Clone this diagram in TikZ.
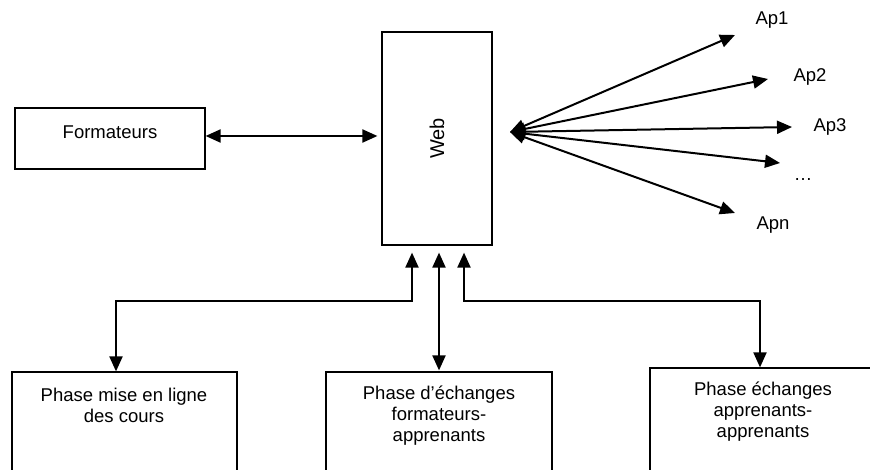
\documentclass[tikz,border=0pt]{standalone}
\usepackage{fontspec}
\setmainfont{Liberation Sans}
\usetikzlibrary{arrows.meta}
\begin{document}
\begin{tikzpicture}[x=1pt,y=-1pt,
  font=\fontsize{18.5}{21}\selectfont,
  box/.style={draw, line width=1.2pt, inner sep=0pt},
  conn/.style={line width=2pt, {Triangle[length=15pt,width=13pt]}-{Triangle[length=15pt,width=13pt]}},
  lbl/.style={inner sep=0pt}]
\useasboundingbox (0,0) rectangle (870,470);
\clip (0,0) rectangle (870,470);
\fill[white] (0,0) rectangle (870,470);
% boxes
\node[box, minimum width=190pt, minimum height=61pt] (form) at (110,138.5) {};
\node[lbl] (formtxt) at ([yshift=6.5pt]form.center) {Formateurs};
\node[box, minimum width=110pt, minimum height=213pt] (web) at (437,138.5) {};
\node[lbl, rotate=90, font=\fontsize{20}{24}\selectfont] (webtxt) at (web.center) {Web};
\node[box, minimum width=225pt, minimum height=110pt] (p1) at (124.5,427) {};
\node[lbl, align=center] (p1txt) at (124,405.5) {Phase mise en ligne\\des cours};
\node[box, minimum width=226pt, minimum height=110pt] (p2) at (439,427) {};
\node[lbl, align=center] (p2txt) at (439,416) {Phase d’échanges\\formateurs-\\apprenants};
\node[box, minimum width=226pt, minimum height=114pt] (p3) at (763,425) {};
\node[lbl, align=center] (p3txt) at (763,412) {Phase échanges\\apprenants-\\apprenants};
% hub and learners
\coordinate (hub) at (510,132);
\coordinate (t1) at (735,35);
\coordinate (t2) at (768,79);
\coordinate (t3) at (792,127);
\coordinate (t4) at (780,163);
\coordinate (t5) at (735,213);
\node[lbl] (ap1) at (772,20) {Ap1};
\node[lbl] (ap2) at (810,77) {Ap2};
\node[lbl] (ap3) at (830,127) {Ap3};
\node[lbl] (apd) at (803,180) {…};
\node[lbl] (apn) at (773,225) {Apn};
\foreach \t in {t1,t2,t3,t4,t5} \draw[conn] (hub) -- (\t);
% connectors
\draw[conn] ([yshift=2.5pt]form.east) -- ([xshift=-4pt,yshift=2.5pt]web.west);
\draw[conn] ([xshift=-25pt,yshift=-7pt]web.south) -- ++(0,48) -| ([xshift=-8.5pt]p1.north);
\draw[conn] ([xshift=2pt,yshift=-7pt]web.south) -- ([yshift=1pt]p2.north);
\draw[conn] ([xshift=27pt,yshift=-7pt]web.south) -- ++(0,48) -| ([xshift=-3pt]p3.north);
\end{tikzpicture}
\end{document}
